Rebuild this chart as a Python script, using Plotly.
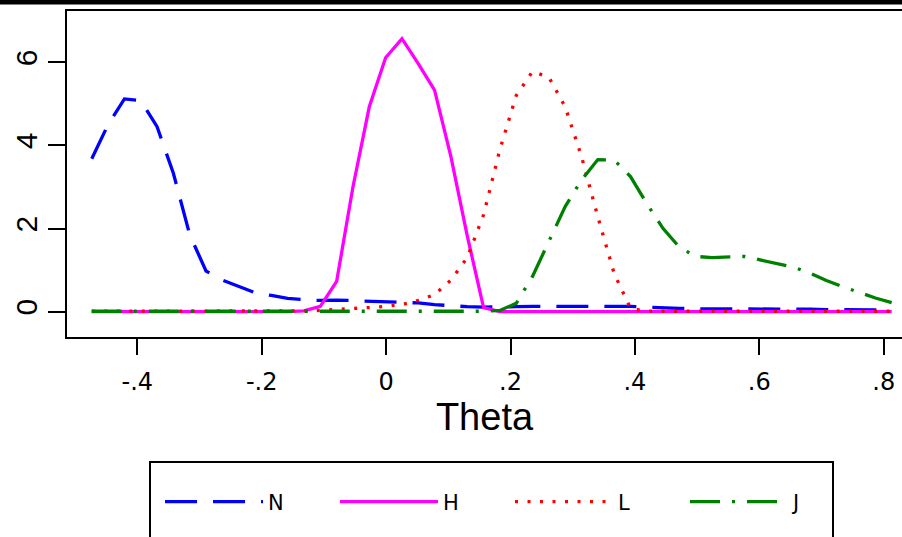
import plotly.graph_objects as go

# Grid of Theta values (kernel density evaluation points)
theta = [-0.4732, -0.4470, -0.4207, -0.3945, -0.3682, -0.3420, -0.3157, -0.2895, -0.2632, -0.2370,
         -0.2108, -0.1845, -0.1583, -0.1320, -0.1058, -0.0795, -0.0533, -0.0270, -0.0008, 0.0255,
         0.0517, 0.0779, 0.1042, 0.1304, 0.1567, 0.1829, 0.2092, 0.2354, 0.2617, 0.2879,
         0.3142, 0.3404, 0.3666, 0.3929, 0.4191, 0.4454, 0.4716, 0.4979, 0.5241, 0.5504,
         0.5766, 0.6029, 0.6291, 0.6553, 0.6816, 0.7078, 0.7341, 0.7603, 0.7866, 0.8128]

dens_N = [3.68, 4.50, 5.12, 5.08, 4.45, 3.33, 1.85, 0.98, 0.76, 0.60,
          0.46, 0.39, 0.32, 0.29, 0.27, 0.28, 0.27, 0.26, 0.25, 0.24,
          0.21, 0.17, 0.14, 0.12, 0.11, 0.11, 0.12, 0.13, 0.13, 0.14,
          0.14, 0.14, 0.14, 0.13, 0.11, 0.09, 0.08, 0.07, 0.07, 0.07,
          0.07, 0.07, 0.06, 0.06, 0.06, 0.05, 0.05, 0.05, 0.04, 0.04]

dens_H = [0.00, 0.00, 0.00, 0.00, 0.00, 0.00, 0.00, 0.00, 0.00, 0.00,
          0.00, 0.00, 0.00, 0.02, 0.13, 0.73, 3.00, 4.93, 6.11, 6.57,
          5.97, 5.33, 3.73, 1.83, 0.10, 0.00, 0.00, 0.00, 0.00, 0.00,
          0.00, 0.00, 0.00, 0.00, 0.00, 0.00, 0.00, 0.00, 0.00, 0.00,
          0.00, 0.00, 0.00, 0.00, 0.00, 0.00, 0.00, 0.00, 0.00, 0.00]

dens_L = [0.01, 0.01, 0.01, 0.01, 0.01, 0.01, 0.01, 0.01, 0.01, 0.01,
          0.01, 0.01, 0.01, 0.02, 0.03, 0.05, 0.07, 0.10, 0.13, 0.17,
          0.27, 0.41, 0.76, 1.30, 2.33, 3.90, 5.20, 5.78, 5.64, 4.93,
          3.73, 2.28, 0.92, 0.08, 0.01, 0.01, 0.01, 0.01, 0.01, 0.01,
          0.01, 0.01, 0.01, 0.01, 0.01, 0.01, 0.01, 0.01, 0.01, 0.01]

dens_J = [0.01, 0.01, 0.01, 0.01, 0.01, 0.01, 0.01, 0.01, 0.01, 0.01,
          0.01, 0.01, 0.01, 0.01, 0.01, 0.01, 0.01, 0.01, 0.01, 0.01,
          0.01, 0.01, 0.01, 0.01, 0.01, 0.03, 0.20, 0.85, 1.68, 2.53,
          3.17, 3.66, 3.65, 3.25, 2.60, 2.00, 1.55, 1.33, 1.30, 1.31,
          1.33, 1.24, 1.15, 1.07, 0.93, 0.75, 0.60, 0.46, 0.33, 0.22]

series_names = ["N", "H", "L", "J"]
x_tickvals = [-0.4, -0.2, 0, 0.2, 0.4, 0.6, 0.8]
x_ticktext = ["-.4", "-.2", "0", ".2", ".4", ".6", ".8"]
y_tickvals = [0, 2, 4, 6]
y_ticktext = ["0", "2", "4", "6"]

W, H = 902, 537
L_M, R_M, T_M, B_M = 67, 0, 11, 200
pw, ph = W - L_M - R_M, H - T_M - B_M

def px_x(p):
    return (p - L_M) / pw

def px_y(p):
    return (H - B_M - p) / ph

styles = [
    dict(color="#0000ff", dash="32px,16px"),
    dict(color="#ff00ff", dash="solid"),
    dict(color="#ff0000", dash="3px,9.5px"),
    dict(color="#008000", dash="30px,12px,3px,12px"),
]
data = [dens_N, dens_H, dens_L, dens_J]

fig = go.Figure()
for name, ys, st in zip(series_names, data, styles):
    fig.add_trace(go.Scatter(
        x=theta, y=ys, mode="lines", name=name,
        line=dict(color=st["color"], dash=st["dash"], width=3.3),
    ))

font_main = "Liberation Sans, Arial, sans-serif"
font_wide = "DejaVu Sans, Verdana, sans-serif"

fig.update_layout(
    width=W, height=H,
    margin=dict(l=L_M, r=R_M, t=T_M, b=B_M, pad=0, autoexpand=False),
    paper_bgcolor="white", plot_bgcolor="white",
    font=dict(family=font_main, color="black"),
    showlegend=True,
    legend=dict(
        orientation="h", x=px_x(160), xanchor="left", y=px_y(502), yanchor="middle",
        font=dict(size=21, family=font_wide, color="black"),
        itemwidth=98, entrywidth=62, entrywidthmode="pixels",
        bgcolor="rgba(0,0,0,0)", borderwidth=0,
        traceorder="normal",
    ),
    xaxis=dict(
        range=[-0.513, 0.8294], showgrid=False, zeroline=False, automargin=False,
        showline=True, linecolor="black", linewidth=2, mirror=True,
        ticks="outside", ticklen=16, tickwidth=2, tickcolor="black",
        tickvals=x_tickvals, ticktext=x_ticktext,
        tickfont=dict(size=24, family=font_wide, color="black"),
        ticklabelstandoff=6,
        title=dict(text="Theta", font=dict(size=38, family=font_main, color="black"), standoff=4),
    ),
    yaxis=dict(
        range=[-0.609, 7.235], showgrid=False, zeroline=False, automargin=False,
        showline=True, linecolor="black", linewidth=2, mirror=False,
        ticks="outside", ticklen=17, tickwidth=2, tickcolor="black",
        tickvals=y_tickvals, ticktext=y_ticktext, tickangle=-90,
        tickfont=dict(size=30, family=font_main, color="black"),
        ticklabelstandoff=-1,
    ),
    shapes=[
        # black band along the top edge of the image
        dict(type="rect", xref="paper", yref="paper",
             x0=px_x(-5), x1=px_x(910), y0=px_y(4.5), y1=px_y(-5),
             fillcolor="black", line=dict(width=0), layer="above"),
        # legend frame
        dict(type="rect", xref="paper", yref="paper",
             x0=px_x(150), x1=px_x(833), y0=px_y(462), y1=px_y(548),
             fillcolor="rgba(0,0,0,0)", line=dict(color="black", width=2)),
    ],
)

fig.write_html(
    "out.html",
    config={"displayModeBar": False},
    post_script="document.body.style.margin='0';document.body.style.padding='0';",
)
